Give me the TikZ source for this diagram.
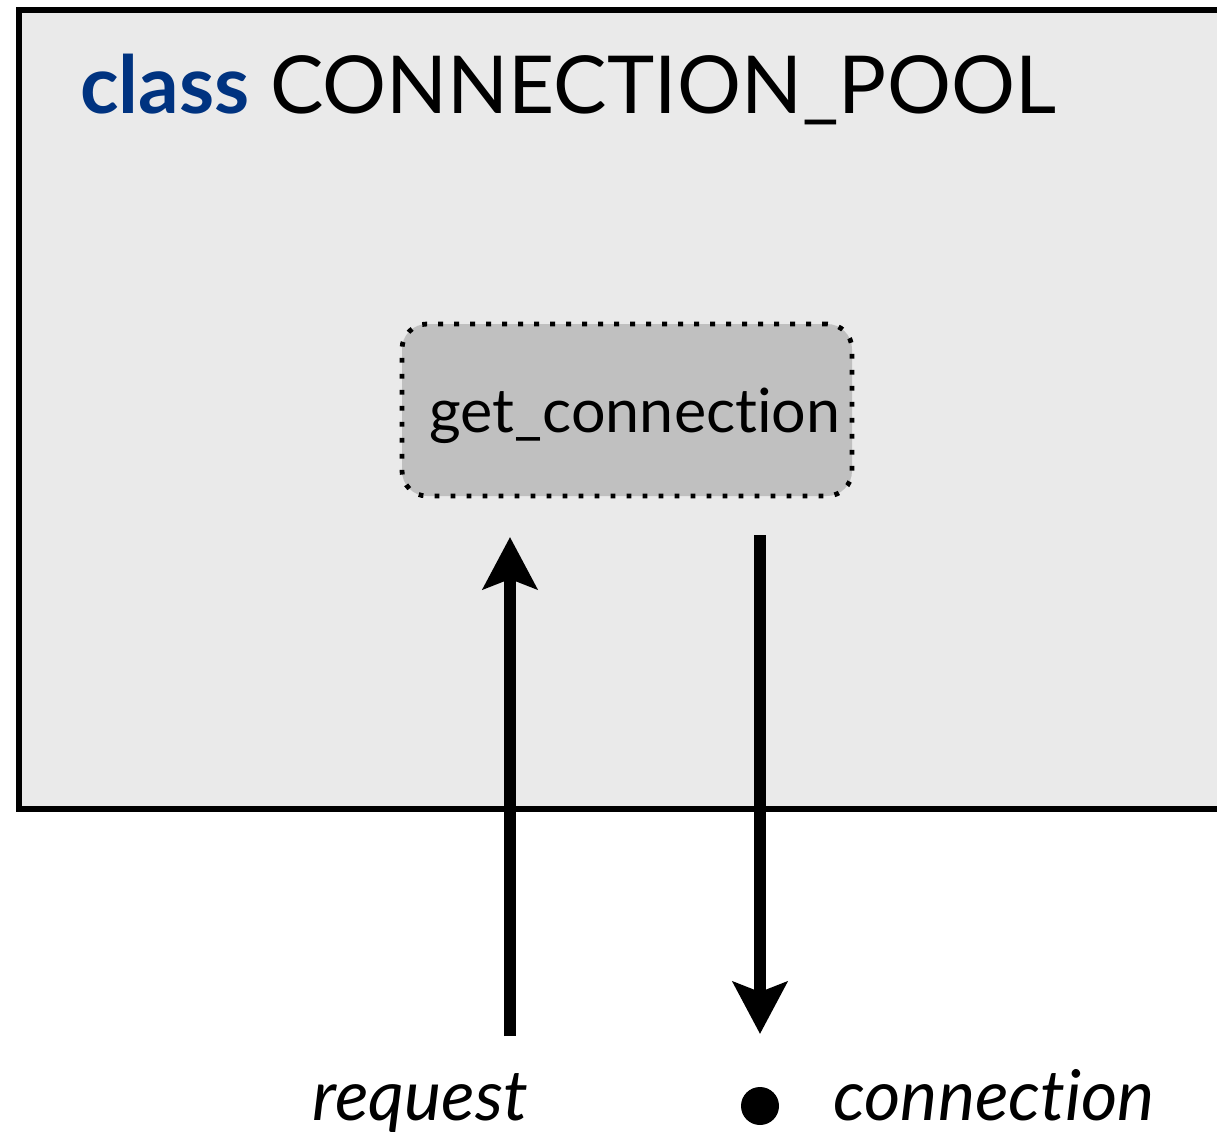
\documentclass[tikz,border=0pt]{standalone}
\usepackage{fontspec}
\setmainfont{Lato}[Ligatures=NoCommon]
\usetikzlibrary{arrows.meta}
\definecolor{poolfill}{HTML}{EAEAEA}
\definecolor{featfill}{HTML}{C0C0C0}
\definecolor{kwblue}{HTML}{003380}
\begin{document}
\begin{tikzpicture}[x=0.5pt, y=-0.5pt,
  line cap=butt, line join=miter, >={Stealth[length=26pt, width=27pt, inset=5pt]},
  lbl/.style={inner sep=0pt, anchor=base west},
  feature/.style={draw, fill=featfill, rounded corners=12.5pt, line width=2.4pt,
    dash pattern=on 2.4pt off 5.6pt, minimum width=225pt, minimum height=86pt, inner sep=0pt},
  flow/.style={->, line width=6pt}]
  \clip (0,0) rectangle (1217,1141);
  % class box, running off the right side
  \draw [line width=2.6pt, fill=poolfill] (19,10) rectangle (1240,809);
  \node [lbl] (title) at (80,113) {\fontsize{40}{44}\selectfont\textcolor{kwblue}{\bfseries class} CONNECTION\_POOL};
  \node [feature] (getconn) at (627,410) {};
  \node [lbl, anchor=base] (getlbl) at (635,432) {\fontsize{30.5}{36}\selectfont get\_connection};
  % call in, result out
  \coordinate (reqfoot) at (510,1036);
  \coordinate (reqtip)  at (510,537);
  \coordinate (resroot) at (760,535);
  \coordinate (restip)  at (760,1034);
  \draw [flow] (reqfoot) -- (reqtip);
  \draw [flow] (resroot) -- (restip);
  \node [lbl] (request) at (312,1120) {\fontsize{35}{40}\selectfont\itshape request};
  \node [circle, fill, inner sep=0pt, minimum size=19pt] (resdot) at (760,1106) {};
  \node [lbl] (connection) at (833,1120) {\fontsize{35}{40}\selectfont\itshape connection};
\end{tikzpicture}
\end{document}
